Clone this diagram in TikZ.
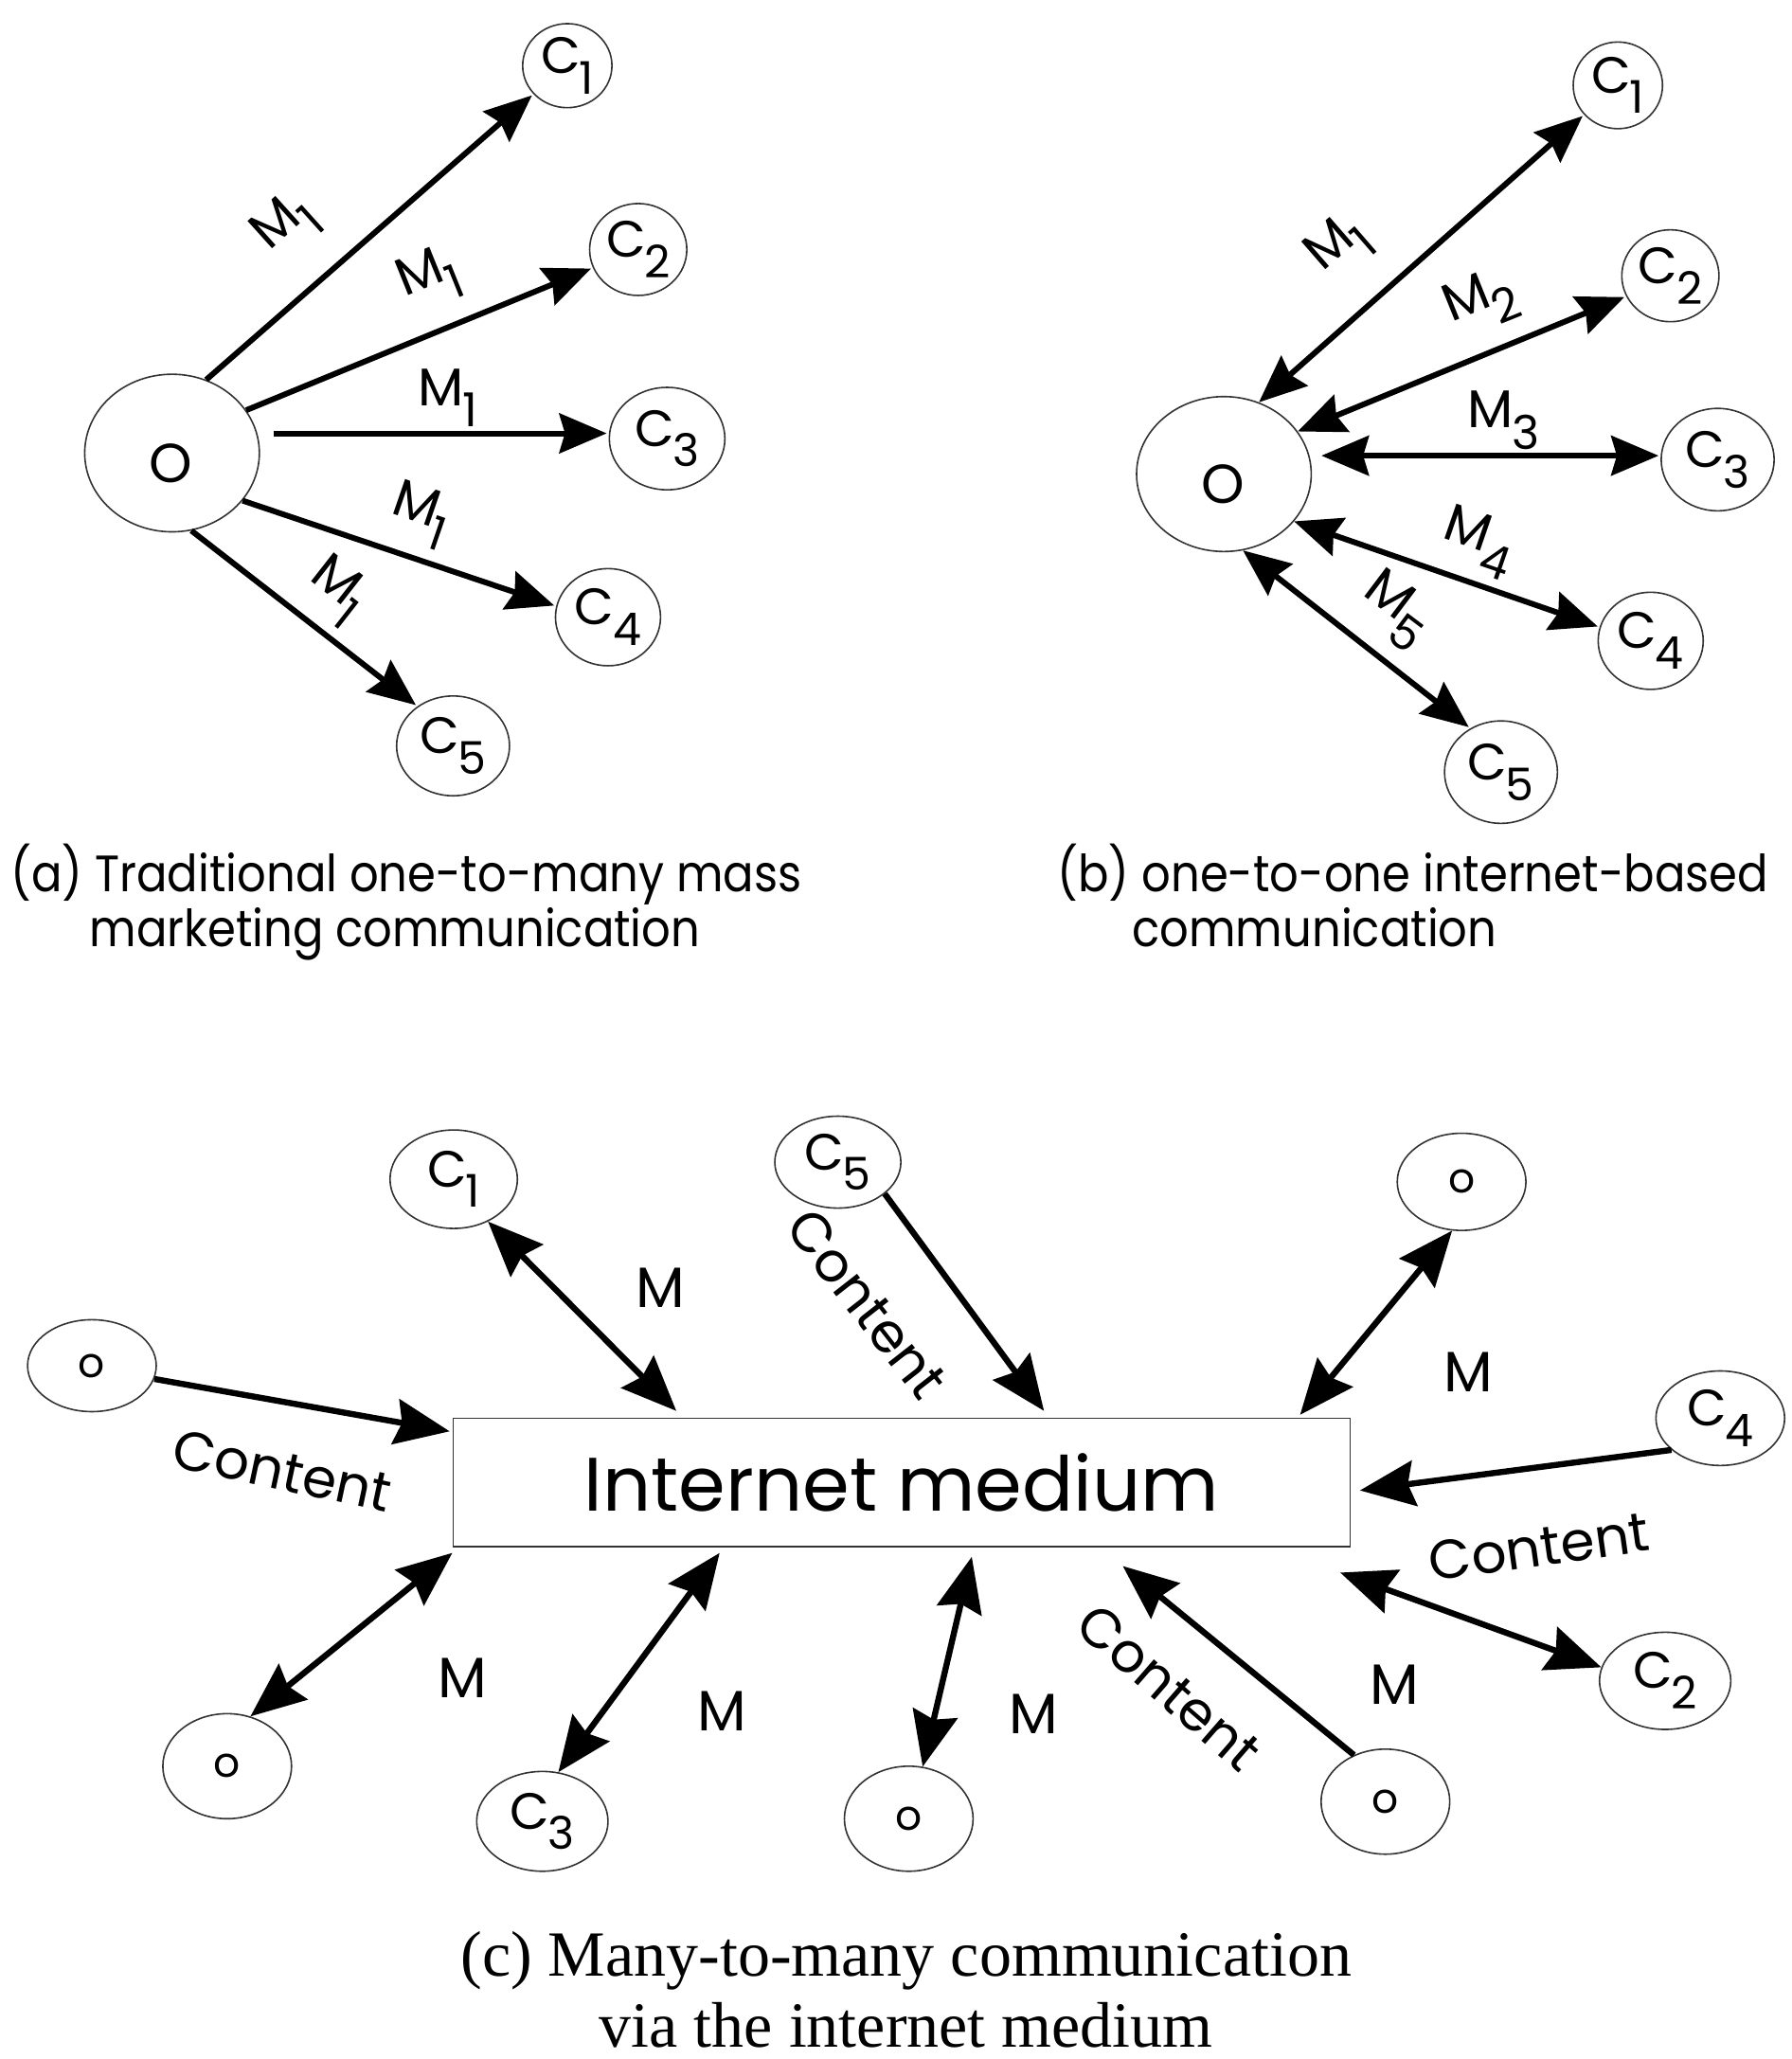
\documentclass[tikz,border=0pt]{standalone}
\usepackage{fontspec}
\setmainfont{Poppins}
\newfontfamily\serifcap{Liberation Serif}
\usetikzlibrary{shapes.geometric,arrows.meta,calc}
\def\pu{0.6932pt}
\newcommand\lowsub[1]{\kern-0.8pt\raisebox{-0.4em}{\scalebox{0.88}{#1}}}
\newcommand\Cs[1]{C\lowsub{#1}}
\newcommand\capscale[1]{\scalebox{0.89}[1]{#1}}
\tikzset{
  ell/.style n args={2}{ellipse, draw=black!80, line width=0.8pt,
     minimum width=#1*\pu, minimum height=#2*\pu, inner sep=0pt,
     font=\fontsize{27}{27}\selectfont},
  oell/.style n args={2}{ell={#1}{#2}, font=\fontsize{22}{22}\selectfont},
  bigO/.style={inner sep=0pt, font=\fontsize{29}{29}\selectfont},
  mytip/.tip={Stealth[length=25pt,width=21pt,inset=3pt]},
  mybigtip/.tip={Stealth[length=29pt,width=24pt,inset=3.5pt]},
  arr/.style={line width=3pt, -mytip, shorten >=1pt},
  darr/.style={line width=3pt, mytip-mytip, shorten >=1pt},
  carr/.style={line width=3.2pt, -mybigtip},
  cdarr/.style={line width=3.2pt, mybigtip-mybigtip},
  lbl/.style={inner sep=0pt, font=\fontsize{28}{28}\selectfont},
  clbl/.style={inner sep=0pt, font=\fontsize{29}{29}\selectfont},
  mlbl/.style={inner sep=0pt, font=\fontsize{30}{30}\selectfont},
  captxt/.style={inner sep=0pt, font=\fontsize{27}{27}\selectfont},
  ccap/.style={inner sep=0pt, font=\serifcap\fontsize{34}{34}\selectfont},
}
\begin{document}
\begin{tikzpicture}[x=0.6932pt,y=-0.6932pt]
\useasboundingbox (0,0) rectangle (1364,1568);

% ---------- panel (a) ----------
\node[ell={133}{120}] (aO) at (131,345) {};
\node[bigO] (aOt) at (130,353) {O};
\node[ell={68}{64}] (aC1) at (432,50) {\Cs{1}};
\node[ell={74}{70}] (aC2) at (486,190) {\Cs{2}};
\node[ell={88}{78}] (aC3) at (508,334) {\Cs{3}};
\node[ell={80}{74}] (aC4) at (463,470) {\Cs{4}};
\node[ell={86}{76}] (aC5) at (345,568) {\Cs{5}};

\draw[arr] (aO.65) -- (aC1.220);
\draw[arr] (aO.30) -- (aC2.202);
\draw[arr, shorten <=7pt] (aO.east |- 0,330) -- (aC3.west |- 0,330);
\draw[arr] (aO.-34) -- (aC4.168);
\draw[arr] (aO.-76) -- (aC5.132);

\node[lbl, rotate=42] (aM1) at (218,172) {M\lowsub{1}};
\node[lbl, rotate=22] (aM2) at (327,212) {M\lowsub{1}};
\node[lbl] (aM3) at (341,303) {M\lowsub{1}};
\node[lbl, rotate=-19] (aM4) at (320,392) {M\lowsub{1}};
\node[lbl, rotate=-38] (aM5) at (256,450) {M\lowsub{1}};

\node[captxt, anchor=base west] (capa1) at (8,679) {\capscale{(a) Traditional one-to-many mass}};
\node[captxt, anchor=base west] (capa2) at (68,721) {\capscale{marketing communication}};

% ---------- panel (b) ----------
\node[ell={133}{118}] (bO) at (932,361) {};
\node[bigO] (bOt) at (931,369) {O};
\node[ell={68}{66}] (bC1) at (1232,65) {\Cs{1}};
\node[ell={74}{70}] (bC2) at (1272,210) {\Cs{2}};
\node[ell={86}{78}] (bC3) at (1308,350) {\Cs{3}};
\node[ell={80}{74}] (bC4) at (1257,488) {\Cs{4}};
\node[ell={86}{78}] (bC5) at (1143,588) {\Cs{5}};

\draw[darr] (bO.64) -- (bC1.221);
\draw[darr] (bO.30) -- (bC2.205);
\draw[darr, shorten <=5pt] (bO.east |- 0,347) -- (bC3.west |- 0,347);
\draw[darr] (bO.-34) -- (bC4.165);
\draw[darr] (bO.-76) -- (bC5.125);

\node[lbl, rotate=41] (bM1) at (1020,188) {M\lowsub{1}};
\node[lbl, rotate=22] (bM2) at (1128,230) {M\lowsub{2}};
\node[lbl] (bM3) at (1145,320) {M\lowsub{3}};
\node[lbl, rotate=-19] (bM4) at (1126,413) {M\lowsub{4}};
\node[lbl, rotate=-37] (bM5) at (1063,465) {M\lowsub{5}};

\node[captxt, anchor=base west] (capb1) at (805,679) {\capscale{(b) one-to-one internet-based}};
\node[captxt, anchor=base west] (capb2) at (862,721) {\capscale{communication}};

% ---------- panel (c) ----------
\node[draw=black!80, line width=0.8pt, minimum width=683*\pu, minimum height=98*\pu,
      inner sep=0pt, font=\fontsize{40}{40}\selectfont] (box) at (686.5,1129) {Internet medium};

\node[ell={97}{75}] (cC1) at (345.5,898) {\Cs{1}};
\node[ell={96}{70}] (cC5) at (638,885) {\Cs{5}};
\node[oell={98}{74}] (cOtr) at (1113,900) {o};
\node[oell={98}{70}] (cOl) at (70,1040) {o};
\node[ell={98}{72}] (cC4) at (1310,1080) {\Cs{4}};
\node[ell={100}{74}] (cC2) at (1268,1280) {\Cs{2}};
\node[oell={98}{80}] (cObl) at (173,1345) {o};
\node[ell={100}{76}] (cC3) at (413,1387) {\Cs{3}};
\node[oell={98}{80}] (cObc) at (692,1385) {o};
\node[oell={98}{80}] (cObr) at (1055,1372) {o};

\draw[carr] (cOl.-12) -- ([shift={(-2,-39)}]box.west);
\draw[cdarr] (cC1.-51) -- ([shift={(-171.5,-5)}]box.north);
\draw[carr] (cC5.-34) -- ([shift={(108.5,-5)}]box.north);
\draw[cdarr] (cOtr.-101) -- ([shift={(303.5,-2)}]box.north);
\draw[carr] (cC4.213) -- ([shift={(7,6)}]box.east);
\draw[cdarr] (cC2.168) -- ([shift={(-8,19)}]box.south east);
\draw[carr] (cObr.124) -- ([shift={(168.5,14)}]box.south);
\draw[cdarr] (cObc.75) -- ([shift={(53.5,7)}]box.south);
\draw[cdarr] (cC3.72) -- ([shift={(-138.5,4)}]box.south);
\draw[cdarr] (cObl.65) -- ([shift={(0,4)}]box.south west);

\node[clbl, rotate=-12] (t1) at (215,1120) {Content};
\node[clbl, rotate=-52] (t2) at (660,993) {Content};
\node[clbl, rotate=8] (t3) at (1172,1178) {Content};
\node[clbl, rotate=-41] (t4) at (890,1285) {Content};
\node[mlbl] (m1) at (503,981) {M};
\node[mlbl] (m2) at (1118,1045) {M};
\node[mlbl] (m3) at (1062,1283) {M};
\node[mlbl] (m4) at (787,1305) {M};
\node[mlbl] (m5) at (550,1303) {M};
\node[mlbl] (m6) at (352,1278) {M};

\node[ccap, anchor=base] (capc1) at (690,1505) {(c) Many-to-many communication};
\node[ccap, anchor=base] (capc2) at (690,1559) {via the internet medium};
\end{tikzpicture}
\end{document}
